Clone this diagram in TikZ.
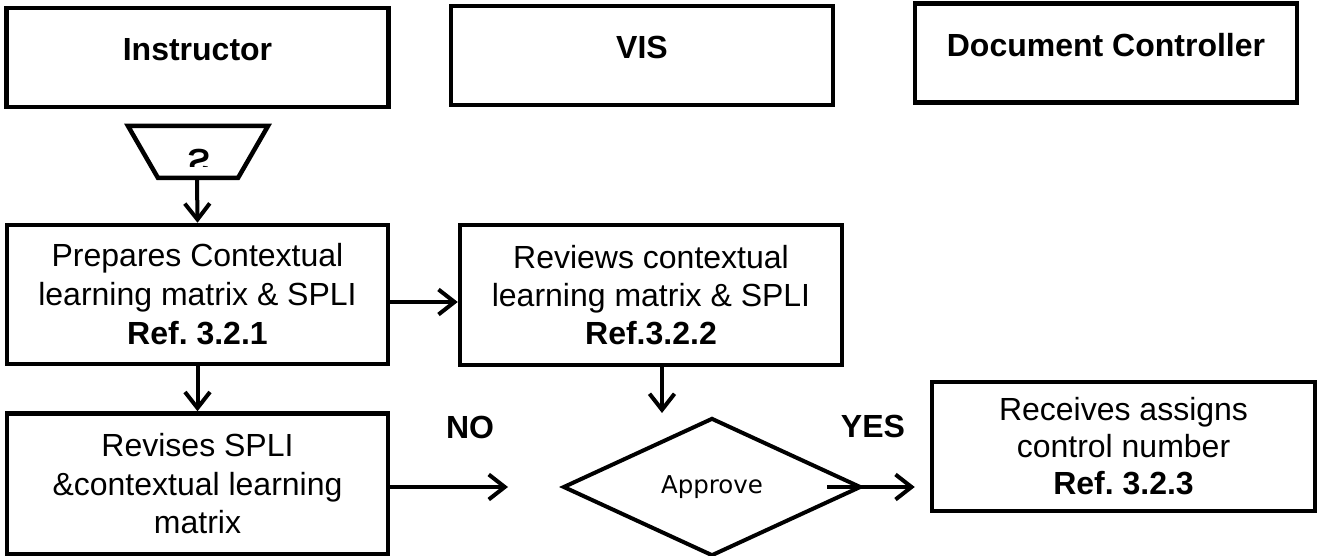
\documentclass[tikz,border=0pt]{standalone}
\usepackage{fontspec}
\setmainfont{Liberation Sans}
\newfontfamily\dejavu{DejaVu Sans}
\usetikzlibrary{arrows.meta,shapes.geometric}
\frenchspacing

\tikzset{
  every picture/.style={x=1pt,y=-1pt},
  header/.style={draw, line width=4.5pt, inner sep=0pt, minimum width=382pt,
                 text height=53pt, text depth=46pt, font=\fontsize{32}{37}\selectfont\bfseries},
  procbox/.style={draw, line width=4.5pt, inner sep=0pt, align=center},
  flow/.style={line width=4pt, -{Straight Barb[length=16pt,width=25pt]}},
  answer/.style={font=\fontsize{32}{37}\selectfont\bfseries}
}

\begin{document}
\begin{tikzpicture}
\useasboundingbox (0,0) rectangle (1317,556);

% swim-lane headers
\node[header] (instr) at (197.5,57.5) {Instructor};
\node[header] (vis)   at (642,55.5)   {VIS};
\node[header] (dc)    at (1106,53)    {Document Controller};

% start terminal (inverted trapezium)
\coordinate (stl) at (128,126);
\coordinate (str) at (268,126);
\coordinate (sbr) at (238,178);
\coordinate (sbl) at (158,178);
\coordinate (startbot) at (197,178);
\draw[line width=4.5pt, line join=miter] (stl) -- (str) -- (sbr) -- (sbl) -- cycle;
\begin{scope}
  \clip (150,129) rectangle (250,167);
  \node[inner sep=0pt, anchor=base] (startlbl) at (199,150)
    {\scalebox{1}[-1]{\fontsize{33}{37}\selectfont\bfseries S}};
\end{scope}

% process steps
\node[procbox, minimum width=381pt, minimum height=139pt,
      font=\fontsize{32}{39}\selectfont] (prep) at (197.5,294.5)
  {Prepares Contextual\\learning matrix \& SPLI\\\textbf{Ref. 3.2.1}};
\node[procbox, minimum width=382pt, minimum height=140pt,
      font=\fontsize{32}{38}\selectfont] (rev) at (651,295)
  {Reviews contextual\\learning matrix \& SPLI\\\textbf{Ref.3.2.2}};
\node[procbox, minimum width=381pt, minimum height=141pt,
      font=\fontsize{32}{38.5}\selectfont] (revise) at (197.5,484)
  {Revises SPLI\\\&contextual learning\\matrix};
\node[procbox, minimum width=383pt, minimum height=129pt,
      font=\fontsize{32}{37}\selectfont] (recv) at (1123.5,446.5)
  {Receives assigns\\control number\\\textbf{Ref. 3.2.3}};

% decision
\node[draw, line width=4pt, diamond, minimum width=298pt, minimum height=138pt,
      inner sep=0pt, font=\dejavu\fontsize{24.5}{28}\selectfont] (appr) at (712,487) {Approve};

\node[answer] (no)  at (470,427) {NO};
\node[answer] (yes) at (873,426) {YES};

% loose connector ends
\coordinate (revend) at (662,413);
\coordinate (noend)  at (508,487);
\coordinate (yesbeg) at (827,487);

% connectors
\draw[flow] (startbot) -- (prep.north);
\draw[flow] ([yshift=-7.5pt]prep.east) -- ([yshift=-7pt]rev.west);
\draw[flow] (prep.south) -- (revise.north);
\draw[flow] ([xshift=11pt]rev.south) -- (revend);
\draw[flow] ([yshift=-3pt]revise.east) -- (noend);
\draw[flow, shorten >=15pt] (yesbeg) -- (yesbeg -| recv.west);
\end{tikzpicture}
\end{document}
